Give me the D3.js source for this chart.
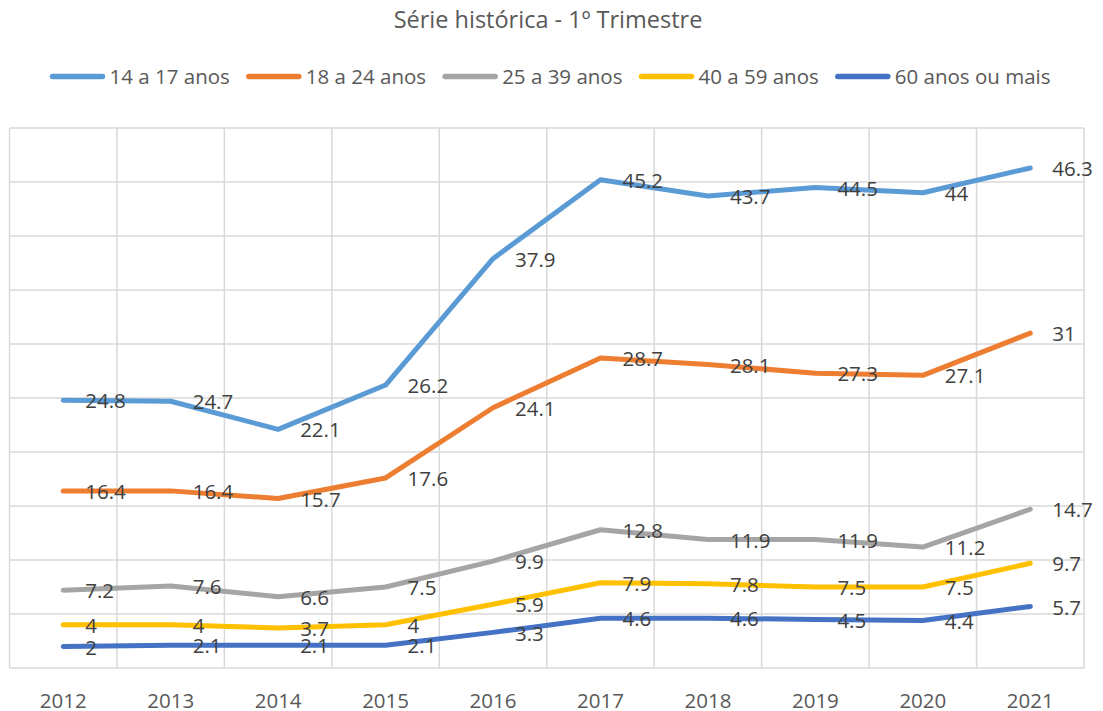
<!DOCTYPE html>
<html><head><meta charset="utf-8">
<script src="https://cdn.jsdelivr.net/npm/d3@7"></script>
<style>body{margin:0;background:#fff} svg{display:block}</style>
</head><body>
<svg id="chart" width="1103" height="711"></svg>
<script>
const title = "Série histórica - 1º Trimestre";
const years = ["2012","2013","2014","2015","2016","2017","2018","2019","2020","2021"];
const seriesNames = ["14 a 17 anos","18 a 24 anos","25 a 39 anos","40 a 59 anos","60 anos ou mais"];
const s14a17 = [24.8, 24.7, 22.1, 26.2, 37.9, 45.2, 43.7, 44.5, 44, 46.3];
const s18a24 = [16.4, 16.4, 15.7, 17.6, 24.1, 28.7, 28.1, 27.3, 27.1, 31];
const s25a39 = [7.2, 7.6, 6.6, 7.5, 9.9, 12.8, 11.9, 11.9, 11.2, 14.7];
const s40a59 = [4, 4, 3.7, 4, 5.9, 7.9, 7.8, 7.5, 7.5, 9.7];
const s60mais = [2, 2.1, 2.1, 2.1, 3.3, 4.6, 4.6, 4.5, 4.4, 5.7];
const seriesColors = ["#5B9BD5","#ED7D31","#A5A5A5","#FFC000","#4472C4"];
const yDomain = [0, 50];
const yStep = 5;

const allSeries = [s14a17, s18a24, s25a39, s40a59, s60mais].map((vals, i) => ({
  name: seriesNames[i], color: seriesColors[i],
  values: vals.map((v, j) => ({year: years[j], value: v}))
}));

const FONT = "'Open Sans', 'Liberation Sans', sans-serif";
const svg = d3.select("#chart");
const plot = {left: 9.5, right: 1084, top: 128, bottom: 668};

const x = d3.scaleBand().domain(years).range([plot.left, plot.right]);
const y = d3.scaleLinear().domain(yDomain).range([plot.bottom, plot.top]);
const cx = d => x(d.year) + x.bandwidth() / 2;

// gridlines
const grid = svg.append("g").attr("stroke", "#D9D9D9").attr("stroke-width", 1.5);
grid.selectAll("line.h").data(d3.range(yDomain[0], yDomain[1] + yStep / 2, yStep)).join("line")
  .attr("x1", plot.left).attr("x2", plot.right)
  .attr("y1", d => y(d)).attr("y2", d => y(d));
const vEdges = years.map(yr => x(yr)).concat([x(years[years.length - 1]) + x.bandwidth()]);
grid.selectAll("line.v").data(vEdges).join("line")
  .attr("x1", d => d).attr("x2", d => d)
  .attr("y1", plot.top).attr("y2", plot.bottom);

// x axis
const xAxis = svg.append("g").attr("transform", `translate(0,${plot.bottom})`)
  .call(d3.axisBottom(x).tickSize(0).tickPadding(25));
xAxis.select(".domain").remove();
xAxis.selectAll("text").attr("font-family", FONT).attr("font-size", 20.5).attr("fill", "#595959");

// lines
const line = d3.line().x(cx).y(d => y(d.value));
svg.append("g").selectAll("path").data(allSeries).join("path")
  .attr("d", d => line(d.values))
  .attr("fill", "none").attr("stroke", d => d.color)
  .attr("stroke-width", 5).attr("stroke-linecap", "round").attr("stroke-linejoin", "round");

// data labels
const lbl = svg.append("g").attr("font-family", FONT).attr("font-size", 20.5).attr("fill", "#404040");
allSeries.forEach(s => {
  lbl.selectAll(null).data(s.values).join("text")
    .attr("x", d => cx(d) + 22).attr("y", d => y(d.value) + 1)
    .attr("dy", "0.35em").text(d => d.value);
});

// title
svg.append("text").attr("x", 548).attr("y", 28)
  .attr("text-anchor", "middle").attr("font-family", FONT).attr("font-size", 23.5)
  .attr("fill", "#595959").text(title);

// legend
const leg = svg.append("g").attr("font-family", FONT).attr("font-size", 20.5).attr("fill", "#595959");
let cursor = 0;
const items = [];
allSeries.forEach(s => {
  const g = leg.append("g").attr("transform", `translate(${cursor},0)`);
  g.append("line").attr("x1", 3).attr("x2", 53).attr("y1", 0).attr("y2", 0)
    .attr("stroke", s.color).attr("stroke-width", 5.5).attr("stroke-linecap", "round");
  const t = g.append("text").attr("x", 60).attr("y", 0).attr("dy", "0.35em").text(s.name);
  const w = t.node().getComputedTextLength();
  cursor += 60 + w + 16;
});
const totalW = cursor - 16;
leg.attr("transform", `translate(${550 - totalW / 2},76.5)`);
</script>
</body></html>
